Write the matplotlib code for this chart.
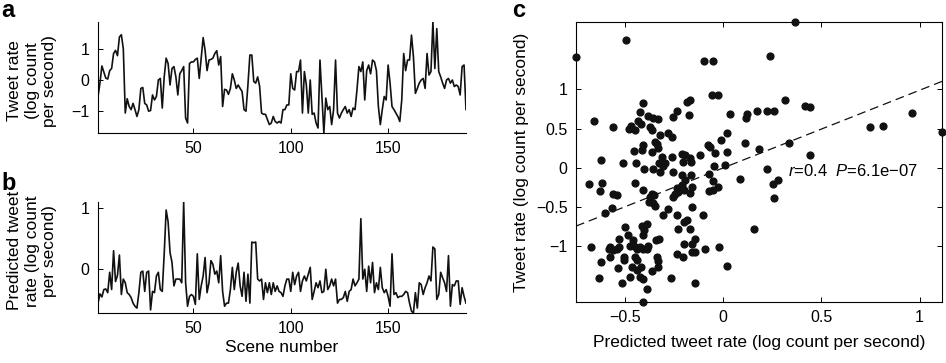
#!/usr/bin/env python3
"""Tweet rate vs predicted tweet rate across scenes (panels a, b, c)."""
import matplotlib as mpl
mpl.use("Agg")
import matplotlib.pyplot as plt
import numpy as np

mpl.rcParams.update({
    "font.family": ["Liberation Sans", "DejaVu Sans"],
    "font.size": 12.5,
    "xtick.labelsize": 11.5, "ytick.labelsize": 11.5,
    "xtick.direction": "in", "ytick.direction": "in",
    "xtick.major.size": 3.5, "ytick.major.size": 3.5,
    "xtick.major.width": 0.7, "ytick.major.width": 0.7,
    "axes.linewidth": 0.8,
    "axes.unicode_minus": True,
    "mathtext.fontset": "custom",
    "mathtext.rm": "Liberation Sans",
    "mathtext.it": "Liberation Sans:italic",
})

# panel a: observed tweet rate per scene (log count per second)
tweet_rate = [
    -0.53, -0.10, 0.45, 0.25, 0.06, 0.03, 0.30, 0.37, 0.85, 0.95, 0.78, 1.38, 1.45, 1.00,
    -1.06, -0.60, -0.85, -0.95, -0.75, -0.95, -1.17, -0.95, -0.27, -0.24,
    -0.75, -0.80, -1.00, -0.98, -0.48, -0.64, -0.53, 0.00, 0.05, -0.90,
    0.10, 0.70, 0.53, -0.16, 0.37, 0.43, 0.10, -0.48, 0.20, 0.30,
    0.43, -1.22, -1.38, 0.53, 0.58, 0.58, 0.66, 0.70, 0.05, 0.70,
    1.36, 0.95, 0.30, 0.64, 0.66, 0.70, 0.85, 0.94, 0.48, 0.75,
    -0.85, -0.30, -0.32, -0.46, -0.27, 0.20, 0.00, -0.27, -0.16, -0.27,
    -0.37, -0.95, -1.00, -0.16, 0.80, 0.80, -0.05, -0.10, 0.10, -0.20,
    -1.06, -1.10, -1.10, -1.27, -1.43, -1.38, -1.17, -1.33, -1.38, -1.33,
    -1.38, -0.95, -0.95, -0.80, -0.80, 0.20, -0.27, -0.32, 0.27, 0.27,
    0.64, -1.06, 0.27, -0.16, -1.06, 0.00, -1.10, -1.06, -1.38, -1.54,
    0.64, -0.53, -1.70, -0.58, -0.95, -0.85, -1.43, -0.95, 0.64, -1.06,
    -1.22, -1.06, -0.95, -0.85, -1.06, -0.95, -1.17, -0.90, -0.95, -0.32,
    0.43, 0.27, 0.58, -0.64, 0.30, 0.48, 0.20, 0.64, 0.58, 0.30,
    -0.85, -1.43, -0.95, -0.53, -0.64, 0.48, -0.10, -0.85, -0.95, -1.06,
    -1.17, -1.33, -0.64, 0.85, 0.30, 0.64, 0.64, 1.44, 0.75, -0.43,
    -0.27, -0.10, 0.00, 0.05, -0.27, 0.85, 0.16, 0.27, 1.86, 0.37,
    1.65, 0.27, 0.10, -0.10, -0.27, 0.00, 0.05, -0.10, 0.00, -0.21,
    -0.16, -0.21, -0.48, 0.43, 0.48, -0.95,
]

# panel b: model-predicted tweet rate per scene
predicted_rate = [
    -0.55, -0.40, -0.45, -0.33, -0.32, -0.38, -0.05, -0.33, 0.30, -0.20, -0.10, 0.23, -0.41, -0.16,
    -0.22, -0.38, -0.41, -0.46, -0.55, -0.60, -0.63, -0.38, -0.05, -0.03,
    -0.36, -0.05, -0.03, -0.66, -0.36, -0.38, -0.11, -0.05, -0.33, -0.36,
    0.25, 0.96, 0.77, 0.27, 0.11, -0.27, -0.16, -0.16, -0.16, -0.22,
    1.09, -0.22, -0.60, -0.44, -0.41, -0.44, -0.57, 0.25, -0.49, -0.27,
    -0.11, 0.19, -0.38, -0.22, 0.14, 0.08, -0.08, -0.03, -0.22, 0.22,
    -0.36, -0.60, -0.55, -0.55, -0.33, 0.03, -0.33, -0.05, 0.10, -0.27,
    -0.44, -0.05, -0.52, -0.08, -0.55, 0.44, 0.43, 0.44, -0.16, -0.19,
    -0.16, -0.49, -0.22, -0.38, -0.22, -0.41, -0.22, -0.36, -0.27, -0.36,
    -0.38, -0.44, -0.27, -0.16, -0.16, -0.36, -0.05, -0.25, -0.11, -0.05,
    -0.36, -0.19, -0.11, -0.19, -0.08, 0.03, -0.49, -0.36, -0.22, -0.30,
    -0.19, -0.38, -0.36, 0.00, -0.33, -0.27, -0.16, -0.27, -0.16, -0.55,
    -0.49, -0.49, -0.46, -0.36, -0.52, -0.36, -0.33, -0.16, -0.27, -0.22,
    -0.16, 0.82, -0.16, 0.00, -0.36, 0.05, -0.22, 0.11, -0.38, -0.22,
    -0.33, 0.03, -0.30, -0.38, -0.33, -0.44, -0.60, 0.25, -0.41, -0.38,
    -0.46, -0.44, -0.44, -0.41, -0.36, -0.38, -0.55, -0.68, -0.71, -0.38,
    -0.63, -0.22, -0.25, -0.41, -0.30, -0.22, -0.11, -0.19, 0.36, 0.33,
    -0.49, -0.41, -0.05, -0.14, -0.22, -0.36, 0.22, -0.60, -0.25, -0.27,
    -0.19, -0.19, -0.57, -0.30, -0.44, -0.55,
]

scatter_pred = [
    -0.75, -0.495, 0.364, -0.098, -0.054, 0.237, -0.059, -0.025, 0.314, -0.17,
    -0.186, -0.237, -0.254, -0.175, 0.034, 0.122, 0.115, 0.17, 0.225, 0.258,
    0.415, 0.444, 0.746, 0.814, 0.963, 1.114, -0.658, -0.56, -0.41, -0.424,
    -0.381, -0.356, -0.334, -0.471, -0.478, -0.449, -0.432, -0.42, -0.373, -0.364,
    -0.322, -0.28, -0.263, -0.347, -0.339, -0.41, -0.415, -0.454, -0.364, -0.331,
    -0.314, -0.325, -0.305, -0.297, -0.263, -0.322, -0.356, -0.402, -0.444, -0.512,
    -0.622, -0.686, -0.619, -0.627, -0.449, -0.41, -0.563, -0.539, -0.364, -0.373,
    -0.353, -0.376, -0.359, -0.347, -0.568, -0.602, -0.305, -0.254, -0.212, -0.195,
    -0.207, -0.17, -0.165, -0.212, -0.163, -0.195, -0.212, -0.2, -0.237, -0.229,
    -0.254, -0.246, -0.17, -0.161, -0.28, -0.161, -0.237, -0.105, -0.2, -0.183,
    -0.229, -0.17, -0.144, -0.198, -0.161, -0.144, -0.161, -0.093, -0.237, -0.203,
    -0.02, 0.017, -0.144, -0.268, -0.119, -0.076, -0.068, -0.014, -0.042, -0.046,
    0.017, 0.017, 0.01, -0.071, -0.051, -0.071, -0.054, -0.025, 0.085, 0.11,
    0.18, 0.225, 0.251, 0.28, 0.336, 0.441, 0.258, 0.156, -0.675, -0.622,
    -0.632, -0.581, -0.576, -0.563, -0.542, -0.529, -0.576, -0.537, -0.514, -0.5,
    -0.529, -0.486, -0.508, -0.505, -0.461, -0.475, -0.454, -0.441, -0.424, -0.407,
    -0.449, -0.437, -0.466, -0.441, -0.42, -0.473, -0.424, -0.407, -0.39, -0.407,
    -0.415, -0.403, -0.39, -0.407, -0.381, -0.39, -0.344, -0.325, -0.339, -0.334,
    -0.364, -0.331,
]
scatter_obs = [
    1.42, 1.63, 1.86, 1.36, 1.36, 1.43, 0.93, 0.93, 0.87, 0.87,
    0.84, 0.73, 0.65, 0.67, 0.69, 0.69, 0.64, 0.72, 0.73, 0.73,
    0.79, 0.78, 0.52, 0.54, 0.70, 0.46, 0.60, 0.52, 0.83, 0.71,
    0.66, 0.63, 0.62, 0.54, 0.49, 0.48, 0.60, 0.56, 0.52, 0.48,
    0.42, 0.45, 0.39, 0.33, 0.30, 0.29, 0.23, 0.22, 0.20, 0.25,
    0.14, 0.06, 0.03, 0.06, 0.14, -0.05, -0.01, -0.01, 0.06, 0.06,
    0.10, -0.20, -0.19, -0.29, -0.19, -0.28, -0.33, -0.35, -0.33, -0.37,
    -0.34, -0.43, -0.45, -0.49, -0.51, -0.57, -0.60, -0.05, 0.18, 0.17,
    0.08, 0.12, 0.08, -0.09, -0.09, -0.16, -0.22, -0.28, -0.26, -0.31,
    -0.37, -0.33, -0.32, -0.24, -0.52, -0.50, -0.60, -0.60, -0.69, -0.67,
    -0.78, -0.78, -0.91, -0.97, -0.97, -1.07, -1.07, -1.03, -1.10, -1.13,
    -1.01, -1.25, -1.47, -1.41, 0.16, 0.29, 0.26, 0.35, 0.19, 0.03,
    0.44, 0.20, 0.04, -0.08, -0.17, -0.29, -0.28, -0.25, -0.14, 0.32,
    0.24, -0.01, -0.20, -0.16, 0.32, 0.16, -0.38, -0.78, -1.01, -1.20,
    -1.40, -1.03, -1.01, -1.05, -1.03, -1.01, -1.13, -1.28, -1.47, -0.76,
    -0.91, -0.86, -1.13, -1.18, -0.92, -1.00, -0.99, -1.03, -1.01, -1.03,
    -1.13, -1.17, -1.27, -1.30, -1.27, -1.39, -1.39, -1.42, -1.54, -1.71,
    -0.74, -0.79, -0.71, -0.85, -0.99, -1.03, -0.92, -0.91, -1.13, -1.26,
    -1.32, -1.19,
]

# least-squares line shown in panel c, and its statistics
fit_slope = 0.99
fit_intercept = 0.0
stats_r = 0.4
stats_p = "6.1e\u221207"

scene_ticks = [50, 100, 150]
a_yticks = [-1, 0, 1]
b_yticks = [0, 1]
c_xticks = [-0.5, 0, 0.5, 1]
c_yticks = [-1, -0.5, 0, 0.5, 1]


def fmt(v):
    return f"{v:g}".replace("-", "\u2212")


def main() -> None:
    y_a = np.array(tweet_rate)
    y_b = np.array(predicted_rate)
    scenes = np.arange(1, len(y_a) + 1)
    sx = np.array(scatter_pred)
    sy = np.array(scatter_obs)

    fig = plt.figure(figsize=(9.46, 3.63), dpi=100)
    ax_a = fig.add_axes([98 / 946, 1 - 133 / 363, 368 / 946, 111 / 363])
    ax_b = fig.add_axes([98 / 946, 1 - 313 / 363, 368 / 946, 111 / 363])
    ax_c = fig.add_axes([576 / 946, 1 - 302 / 363, 366 / 946, 280 / 363])

    for ax, y, yt in [(ax_a, y_a, a_yticks), (ax_b, y_b, b_yticks)]:
        ax.plot(scenes, y, color="#111111", linewidth=1.2)
        ax.set_xlim(scenes[0], scenes[-1])
        ax.set_ylim(y.min(), y.max())
        ax.set_xticks(scene_ticks)
        ax.set_xticklabels([fmt(v) for v in scene_ticks])
        ax.set_yticks(yt)
        ax.set_yticklabels([fmt(v) for v in yt])
        ax.spines["top"].set_visible(False)
        ax.spines["right"].set_visible(False)
        ax.tick_params(axis="x", pad=6)
        ax.tick_params(axis="y", pad=6)

    ax_a.text(-0.179, 0.47, "Tweet rate\n(log count\nper second)", transform=ax_a.transAxes,
              rotation=90, ha="center", va="center", multialignment="center", linespacing=1.2)
    ax_b.text(-0.179, 0.56, "Predicted tweet\nrate (log count\nper second)", transform=ax_b.transAxes,
              rotation=90, ha="center", va="center", multialignment="center", linespacing=1.2)
    ax_b.set_xlabel("Scene number", labelpad=3)

    # panel c
    ax_c.plot(sx, sy, "o", color="#111111", markersize=4.9, clip_on=False, zorder=3)
    xlim = (sx.min(), sx.max())
    ax_c.set_xlim(xlim)
    ax_c.set_ylim(sy.min(), sy.max())
    xl = np.array(xlim)
    ax_c.plot(xl, fit_slope * xl + fit_intercept, color="#111111", linewidth=0.9,
              dashes=(7, 4))
    ax_c.set_xticks(c_xticks)
    ax_c.set_xticklabels([fmt(v) for v in c_xticks])
    ax_c.set_yticks(c_yticks)
    ax_c.set_yticklabels([fmt(v) for v in c_yticks])
    ax_c.tick_params(top=True, right=True, pad=6)
    ax_c.set_xlabel("Predicted tweet rate (log count per second)", labelpad=7)
    ax_c.set_ylabel("Tweet rate (log count per second)", labelpad=5)
    ax_c.text(0.33, -0.04, rf"$\it{{r}}$={stats_r:g}  $\it{{P}}$={stats_p}", fontsize=12,
              ha="left", va="center")

    for label, (x, y) in {"a": (1, 17), "b": (1, 190), "c": (512, 17)}.items():
        fig.text(x / 946, 1 - y / 363, label, fontsize=17, fontweight="bold",
                 ha="left", va="baseline")

    fig.savefig("out.png", dpi=100)
    plt.close(fig)


if __name__ == "__main__":
    main()
